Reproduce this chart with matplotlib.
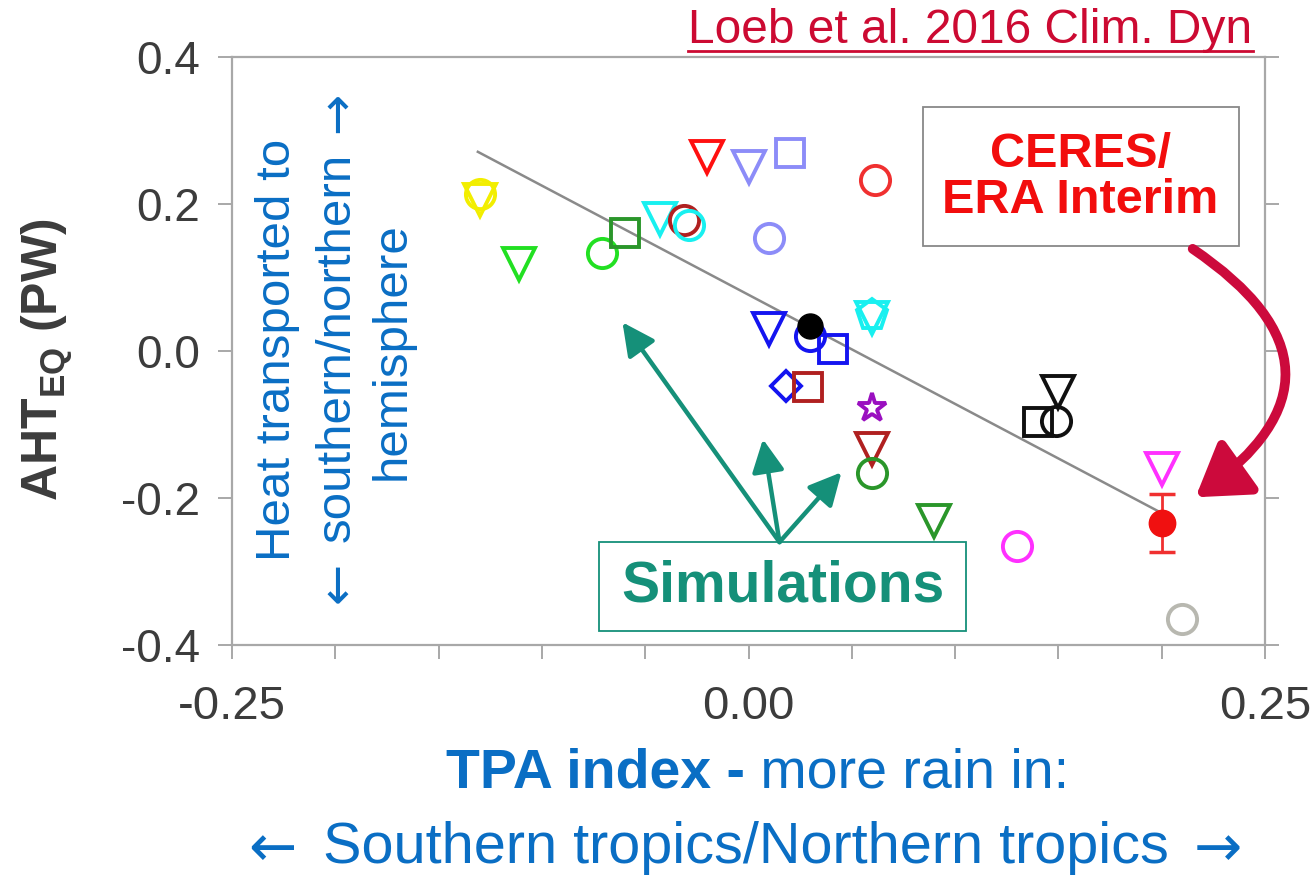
import matplotlib
matplotlib.use('Agg')
import matplotlib.pyplot as plt
from matplotlib.lines import Line2D
from matplotlib.patches import FancyArrowPatch, Rectangle
from matplotlib.ticker import MultipleLocator, FixedLocator, FixedFormatter

plt.rcParams['font.family'] = ['Liberation Sans', 'DejaVu Sans']
plt.rcParams['axes.unicode_minus'] = False
plt.rcParams['mathtext.fontset'] = 'custom'
plt.rcParams['mathtext.bf'] = 'Liberation Sans:bold'
plt.rcParams['mathtext.rm'] = 'Liberation Sans'

# model simulations: TPA index vs cross-equatorial atmospheric heat transport
sim_x = [-0.130, -0.130, -0.111, -0.071, -0.060, -0.043, -0.031, -0.029,
         -0.020, 0.000, 0.020, 0.010, 0.061, 0.010, 0.030, 0.041,
         0.018, 0.029, 0.060, 0.060, 0.060, 0.060, 0.060, 0.090,
         0.130, 0.140, 0.149, 0.150, 0.200, 0.210]
sim_y = [0.213, 0.205, 0.118, 0.133, 0.161, 0.180, 0.178, 0.171,
         0.264, 0.250, 0.270, 0.154, 0.233, 0.030, 0.020, 0.003,
         -0.048, -0.049, 0.049, 0.045, -0.078, -0.133, -0.166, -0.231,
         -0.265, -0.097, -0.095, -0.056, -0.161, -0.365]
sim_marker = ['o', 'v', 'v', 'o', 's', 'v', 'o', 'o',
              'v', 'v', 's', 'o', 'o', 'v', 'o', 's',
              'D', 's', 'p', 'v', '*', 'v', 'o', 'v',
              'o', 's', 'o', 'v', 'v', 'o']
sim_color = ['#F2EE00', '#F2EE00', '#22E022', '#22E022', '#2A962A', '#18F0F0', '#B02020', '#18F0F0',
             '#FF1010', '#8C8CF8', '#8C8CF8', '#8C8CF8', '#F03030', '#1414F0', '#1414F0', '#1414F0',
             '#1414F0', '#B02020', '#18F0F0', '#18F0F0', '#9A10C0', '#B02020', '#2A962A', '#2A962A',
             '#FF30FF', '#101010', '#101010', '#101010', '#FF30FF', '#B8B8B0']

# black filled reference model
ref_x = [0.030]
ref_y = [0.034]

# observations (CERES / ERA Interim)
obs_x = [0.200]
obs_y = [-0.234]
obs_err = [0.040]

# regression line end points
fit_x = [-0.131, 0.199]
fit_y = [0.271, -0.219]

x_ticks = [-0.25, 0.0, 0.25]
x_labels = ['-0.25', '0.00', '0.25']
y_ticks = [-0.4, -0.2, 0.0, 0.2, 0.4]
y_labels = ['-0.4', '-0.2', '0.0', '0.2', '0.4']

W, H = 1310, 876
fig = plt.figure(figsize=(W / 100, H / 100), dpi=100)
ax = fig.add_axes([232 / W, 1 - 645 / H, (1265 - 232) / W, (645 - 57) / H])


def fpos(px, py):
    # pixel position (from top-left) -> figure fraction
    return px / W, 1 - py / H


ax.set_xlim(-0.25, 0.25)
ax.set_ylim(-0.4, 0.4)

ax.plot(fit_x, fit_y, color='#8A8A8A', lw=1.8, zorder=2)

marker_size = {'o': 21, 'v': 23, 's': 19.5, 'D': 15, 'p': 23, '*': 21}
for x, y, m, c in zip(sim_x, sim_y, sim_marker, sim_color):
    ax.plot(x, y, marker=m, ms=marker_size[m], mfc='none', mec=c, mew=2.8,
            ls='none', zorder=3)

ax.plot(ref_x, ref_y, 'o', ms=18, color='black', zorder=4)
ax.errorbar(obs_x, obs_y, yerr=obs_err, fmt='o', ms=19, color='#F01010',
            ecolor='#F03030', elinewidth=2, capsize=9.5, capthick=2.5, zorder=4)

# axes styling
for side in ax.spines.values():
    side.set_color('#A8A8A8')
    side.set_linewidth(1.6)
ax.xaxis.set_major_locator(FixedLocator(x_ticks))
ax.xaxis.set_major_formatter(FixedFormatter(x_labels))
ax.xaxis.set_minor_locator(MultipleLocator(0.05))
ax.yaxis.set_major_locator(FixedLocator(y_ticks))
ax.yaxis.set_major_formatter(FixedFormatter(y_labels))
ax.tick_params(which='both', direction='out', length=10, width=1.4, color='#A8A8A8')
ax.tick_params(axis='y', right=True)
ax.tick_params(axis='x', pad=19, labelsize=34, labelcolor='#3C3C3C')
ax.tick_params(axis='y', pad=13, labelsize=33, labelcolor='#3C3C3C')

# y axis title
fig.text(*fpos(47, 360), r'AHT$_{\mathbf{EQ}}$ (PW)', rotation=90,
         ha='center', va='center', fontsize=36, fontweight='bold', color='#3C3C3C')

blue = '#0A6EC4'
arrow_font = 'DejaVu Sans'
side_size = 35.5
fig.text(*fpos(278, 350), 'Heat transported to', rotation=90, ha='center',
         va='center', fontsize=side_size, color=blue)
fig.text(*fpos(337, 347), 'southern/northern', rotation=90, ha='center',
         va='center', fontsize=side_size, color=blue)
fig.text(*fpos(337, 582), '\u2190', rotation=90, ha='center', va='center',
         fontsize=side_size, color=blue, family=arrow_font)
fig.text(*fpos(337, 112), '\u2192', rotation=90, ha='center', va='center',
         fontsize=side_size, color=blue, family=arrow_font)
fig.text(*fpos(392, 351), 'hemisphere', rotation=90, ha='center',
         va='center', fontsize=side_size, color=blue)

# x axis title in two weights
fig.text(*fpos(745, 773), 'TPA index -', ha='right', va='center',
         fontsize=40, fontweight='bold', color=blue)
fig.text(*fpos(745, 773), ' more rain in:', ha='left', va='center',
         fontsize=40, color=blue)
fig.text(*fpos(746, 848), 'Southern tropics/Northern tropics',
         ha='center', va='center', fontsize=41.5, color=blue)
fig.text(*fpos(272, 850), '\u2190', ha='center', va='center', fontsize=41.5,
         color=blue, family=arrow_font)
fig.text(*fpos(1218, 850), '\u2192', ha='center', va='center', fontsize=41.5,
         color=blue, family=arrow_font)

# citation
crimson = '#CC0A32'
fig.text(*fpos(970, 43), 'Loeb et al. 2016 Clim. Dyn', ha='center',
         va='baseline', fontsize=34.5, color=crimson)
fig.add_artist(Line2D([688 / W, 1253 / W], [1 - 51 / H, 1 - 51 / H],
                      color=crimson, lw=2, transform=fig.transFigure))

# simulations call-out
teal = '#159079'
ax.add_patch(Rectangle((-0.0726, -0.381), 0.1781, 0.121, fill=False,
                       ec=teal, lw=1.3, zorder=5))
ax.text(0.0165, -0.3205, 'Simulations', ha='center', va='center',
        fontsize=41, fontweight='bold', color=teal, zorder=6)
for hx, hy in [(-0.061, 0.039), (0.007, -0.120), (0.045, -0.165)]:
    ax.annotate('', xy=(hx, hy), xytext=(0.015, -0.260),
                arrowprops=dict(arrowstyle='-|>,head_length=0.9,head_width=0.45',
                                color=teal, lw=3.2, mutation_scale=22,
                                shrinkA=0, shrinkB=0))

# observation call-out
ax.add_patch(Rectangle((0.0847, 0.143), 0.1525, 0.189, fill=True, fc='white',
                       ec='#888888', lw=1.3, zorder=5))
ax.text(0.1607, 0.236, 'CERES/\nERA Interim', ha='center', va='center',
        fontsize=35, fontweight='bold', color='#F20D0D', linespacing=1.05,
        zorder=6)
curve = FancyArrowPatch((0.215, 0.139), (0.2164, -0.199),
                        connectionstyle='arc3,rad=-0.72',
                        arrowstyle='-|>,head_length=1.4,head_width=0.9',
                        mutation_scale=22, color='#CC0A3C', lw=7,
                        shrinkA=0, shrinkB=0, clip_on=False, zorder=6)
ax.add_patch(curve)

fig.savefig('out.png', dpi=100, facecolor='white')
